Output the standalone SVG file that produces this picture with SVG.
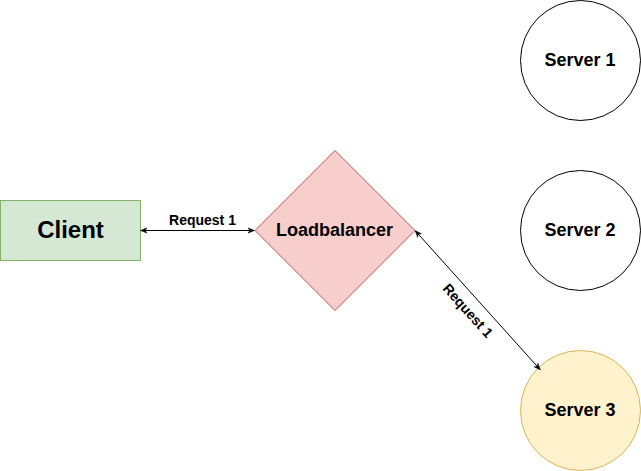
<svg xmlns="http://www.w3.org/2000/svg" width="641" height="471" viewBox="0 0 641 471">
<style>
text{font-family:"Liberation Sans",Arial,sans-serif;font-weight:bold;fill:#000;text-anchor:middle;dominant-baseline:central}
.lbl{font-size:14px}
.srv{font-size:18px}
.conn{stroke:#000;stroke-width:1;fill:none}
</style>
<defs>
<marker id="ah" viewBox="0 0 10 10" refX="9" refY="5" markerWidth="7" markerHeight="7" orient="auto-start-reverse" markerUnits="userSpaceOnUse">
<path d="M0,1 L10,5 L0,9 L3,5 Z" fill="#000" stroke="#000" stroke-width="0.5"/>
</marker>
</defs>
<rect width="641" height="471" fill="#fff"/>
<g id="client">
<rect x="0.5" y="200.5" width="140" height="60" fill="#d5e8d4" stroke="#82b366"/>
<text x="70.5" y="229.5" font-size="24">Client</text>
</g>
<g id="loadbalancer">
<path d="M335,150.5 L415,230.5 L335,310.5 L255,230.5 Z" fill="#f8cecc" stroke="#b85450"/>
<text x="334.5" y="229.5" font-size="18">Loadbalancer</text>
</g>
<g id="server1">
<circle cx="580.5" cy="60.5" r="60" fill="#fff" stroke="#000"/>
<text class="srv" x="580" y="59.5">Server 1</text>
</g>
<g id="server2">
<circle cx="580.5" cy="230.5" r="60" fill="#fff" stroke="#000"/>
<text class="srv" x="580" y="229.5">Server 2</text>
</g>
<g id="server3">
<circle cx="580.5" cy="410.5" r="60" fill="#fff2cc" stroke="#d6b656"/>
<text class="srv" x="580" y="409.5">Server 3</text>
</g>
<g id="connectors">
<line class="conn" x1="141" y1="230.5" x2="254" y2="230.5" marker-start="url(#ah)" marker-end="url(#ah)"/>
<text class="lbl" x="202.5" y="220">Request 1</text>
<line class="conn" x1="415.5" y1="231" x2="540" y2="369.5" marker-start="url(#ah)" marker-end="url(#ah)"/>
<text class="lbl" x="0" y="0" transform="translate(468,310.5) rotate(48)">Request 1</text>
</g>
</svg>
